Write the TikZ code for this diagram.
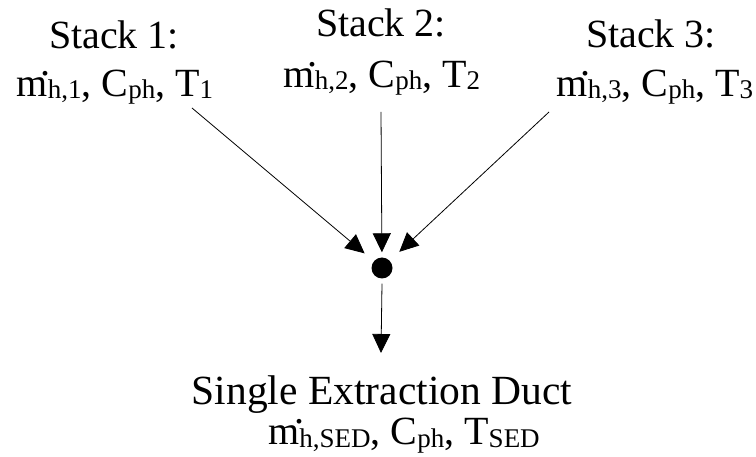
\documentclass[tikz,border=0pt]{standalone}
\usepackage{fontspec}
\setmainfont{Liberation Serif}
\usetikzlibrary{arrows.meta}
% smaller, slightly lowered index text
\newcommand{\idx}[1]{\raisebox{-2pt}{\fontsize{27}{27}\selectfont #1}}
% overdot for a mass flow rate, shifted right by #1
\newcommand{\flowdot}[1]{\makebox[0pt][l]{\hspace*{#1}\raisebox{21pt}{.}}}
\tikzset{
  lbl/.style={font=\fontsize{40}{48}\selectfont, anchor=base, inner sep=0pt},
  flow/.style={draw=black, line width=0.8pt, -{Triangle[length=19pt,width=18pt]}},
  junction/.style={circle, fill=black, inner sep=0pt, minimum size=21pt}
}
\begin{document}
\begin{tikzpicture}[x=1pt,y=-1pt]
  \useasboundingbox (0,0) rectangle (756,457);
  % stack labels
  \node[lbl] (s1t) at (114,49) {Stack 1:};
  \node[lbl] (s1v) at (115,97) {\flowdot{24pt}m\idx{h,1}, C\idx{ph}, T\idx{1}};
  \node[lbl] (s2t) at (381,37) {Stack 2:};
  \node[lbl] (s2v) at (382,88) {\flowdot{24pt}m\idx{h,2}, C\idx{ph}, T\idx{2}};
  \node[lbl] (s3t) at (651,48) {Stack 3:};
  \node[lbl] (s3v) at (655,97) {\flowdot{24pt}m\idx{h,3}, C\idx{ph}, T\idx{3}};
  % mixing point
  \node[junction] (j) at (382,268) {};
  % arrow start points below the labels
  \coordinate (a1) at (192,108);
  \coordinate (a2) at (381,112);
  \coordinate (a3) at (549,112);
  \coordinate (b) at (381,353);
  \draw[flow, shorten >=12pt] (a1) -- (j);
  \draw[flow, shorten >=5pt] (a2) -- (j);
  \draw[flow, shorten >=13pt] (a3) -- (j);
  \draw[flow] (j.south) ++(0,5) -- (b);
  % extraction duct label
  \node[lbl, font=\fontsize{41.5}{48}\selectfont] (dt) at (382,405) {Single Extraction Duct};
  \node[lbl] (dv) at (404,445) {\flowdot{26pt}m\idx{h,SED}, C\idx{ph}, T\idx{SED}};
\end{tikzpicture}
\end{document}
